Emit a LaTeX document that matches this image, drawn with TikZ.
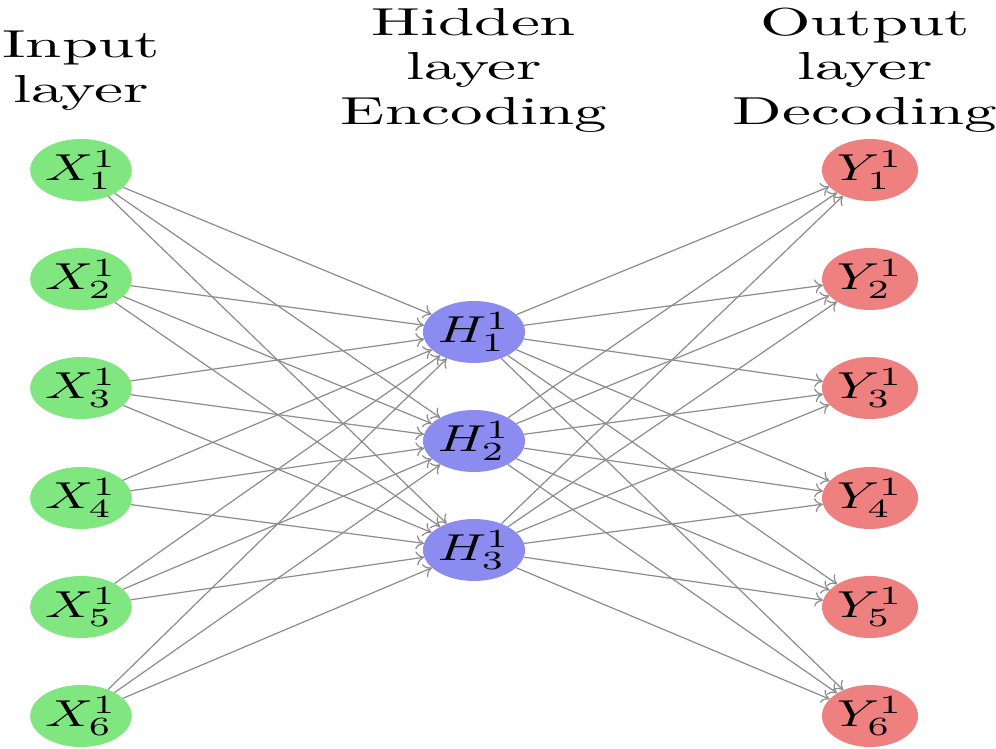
\documentclass[tikz,border=0pt]{standalone}
\usepackage{graphicx}
\usetikzlibrary{shapes.geometric,arrows.meta}

\definecolor{ingreen}{RGB}{128,230,128}
\definecolor{hidblue}{RGB}{140,140,240}
\definecolor{outred}{RGB}{238,128,128}
\definecolor{edgegray}{RGB}{140,140,140}

% unit labels and layer headings are widened text
\newcommand{\unitlabel}[1]{\scalebox{5.3}[3.75]{$#1$}}
\newcommand{\layertitle}[1]{\scalebox{6.5}[3.9]{\renewcommand\arraystretch{0.96}\begin{tabular}{@{}c@{}}#1\end{tabular}}}

\begin{document}
\begin{tikzpicture}[x=1pt,y=-1pt,
  unit/.style={ellipse, draw=none, minimum width=96pt, minimum height=62pt, inner sep=0pt},
  inunit/.style={unit, fill=ingreen},
  hidunit/.style={unit, fill=hidblue},
  outunit/.style={unit, fill=outred},
  edge/.style={draw=edgegray, line width=1.2pt, -{Computer Modern Rightarrow[length=8pt,width=14pt]}},
  heading/.style={inner sep=0pt, anchor=center}]

\useasboundingbox (0,0) rectangle (996,749);
\fill[white] (0,0) rectangle (996,749);

% input and output layers
\foreach \i/\yy in {1/170,2/279,3/388,4/498,5/607,6/716} {
  \node[inunit] (x-\i) at (81,\yy) {\unitlabel{X_{\i}^{1}}};
  \node[outunit] (y-\i) at (870,\yy) {\unitlabel{Y_{\i}^{1}}};
}
% hidden layer
\foreach \j/\yy in {1/332,2/441,3/550}
  \node[hidunit] (h-\j) at (474,\yy) {\unitlabel{H_{\j}^{1}}};

% fully connected weights
\foreach \i in {1,...,6}
  \foreach \j in {1,2,3} {
    \draw[edge] (x-\i) -- (h-\j);
    \draw[edge] (h-\j) -- (y-\i);
  }

% layer headings
\node[heading] (t-in) at (81,71) {\layertitle{Input\\layer}};
\node[heading] (t-hid) at (474,71) {\layertitle{Hidden\\layer\\Encoding}};
\node[heading] (t-out) at (865,71) {\layertitle{Output\\layer\\Decoding}};
\end{tikzpicture}
\end{document}
